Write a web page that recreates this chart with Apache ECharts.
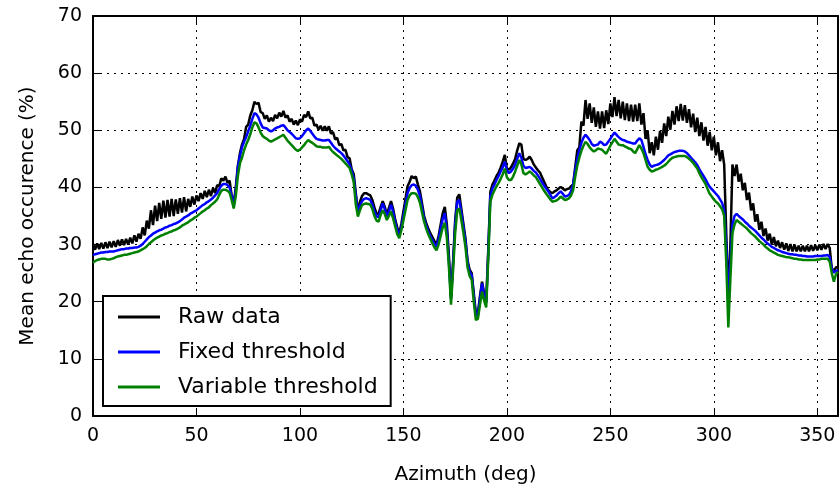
<!DOCTYPE html>
<html>
<head>
<meta charset="utf-8">
<script src="https://cdn.jsdelivr.net/npm/echarts@6/dist/echarts.min.js"></script>
<style>html,body{margin:0;padding:0;background:#fff;}#c{width:840px;height:491px;}</style>
</head>
<body>
<div id="c"></div>
<script>
// Azimuth sampling grid (deg), one sample per degree, 0..360
const azimuth = Array.from({length: 361}, (_, i) => i);

const seriesNames = ['Raw data', 'Fixed threshold', 'Variable threshold'];
const xTicks = [0, 50, 100, 150, 200, 250, 300, 350];
const yTicks = [0, 10, 20, 30, 40, 50, 60, 70];

const rawData = [
30.1,29.1,30.2,29.2,30.3,29.3,30.4,29.4,30.5,29.5,
30.6,29.6,30.8,29.8,30.9,29.9,31.0,30.0,31.2,30.2,
31.6,30.5,31.9,31.0,33.0,31.6,34.2,32.8,36.0,33.4,
36.8,34.1,37.3,34.5,37.7,34.7,37.8,34.9,38.0,35.0,
37.9,35.4,38.1,35.6,38.3,35.8,38.0,36.6,38.4,37.0,
38.6,37.6,39.0,38.0,39.4,38.3,39.6,38.5,39.9,39.0,
40.4,40.2,41.6,41.2,41.9,40.8,41.2,38.6,37.2,40.0,
43.8,46.0,47.5,48.5,50.6,51.0,52.6,53.5,55.0,54.6,
54.8,53.2,53.0,52.0,52.6,51.5,52.2,51.6,52.7,52.1,
53.1,52.4,53.4,52.2,52.6,51.5,52.0,51.0,51.7,50.9,
51.9,51.5,52.7,52.3,53.3,52.1,52.2,50.8,51.0,50.1,
50.8,49.9,50.7,49.9,50.7,49.4,49.7,48.4,48.7,47.4,
47.6,46.5,46.6,45.3,45.1,43.2,42.3,39.0,35.8,37.5,
38.5,39.0,39.0,38.8,38.6,37.8,36.5,35.4,35.4,36.6,
37.6,36.6,35.3,36.4,37.6,36.3,34.4,33.0,32.0,33.6,
35.8,38.0,40.2,41.0,42.0,41.6,41.9,40.5,39.3,37.2,
35.0,33.8,32.8,32.0,31.3,30.6,30.0,31.5,33.5,35.5,
36.6,33.5,28.0,20.7,27.0,34.2,38.2,38.8,36.2,33.6,
31.0,27.2,25.6,25.0,21.5,18.0,18.0,21.0,23.5,21.5,
20.0,29.0,39.2,40.5,41.2,42.0,42.6,43.5,44.5,45.7,
43.3,43.1,43.5,44.2,45.0,46.5,47.7,47.5,45.0,44.8,
45.0,45.4,44.8,44.0,43.5,43.0,42.6,41.8,41.0,40.2,
39.5,39.2,39.0,39.3,39.5,39.8,40.1,39.8,39.5,39.7,
39.8,40.2,40.5,43.5,46.5,47.0,51.5,50.8,55.3,52.0,
54.7,51.3,54.0,50.6,53.3,50.3,53.3,50.4,53.5,51.1,
54.7,52.3,55.8,52.5,55.3,52.1,55.0,51.8,54.7,51.6,
54.5,51.5,54.5,51.6,54.7,51.0,53.0,48.5,50.0,46.0,
47.9,45.6,48.9,46.6,49.9,47.8,51.2,49.0,52.4,50.1,
53.4,51.0,54.2,51.6,54.6,51.7,54.4,51.3,53.7,50.5,
52.9,49.7,52.2,49.0,51.4,48.2,50.6,47.3,49.7,46.5,
48.9,45.6,47.9,44.6,46.5,44.0,32.0,20.8,30.0,44.0,
42.0,44.0,41.0,42.4,39.5,40.8,37.8,39.1,36.0,37.2,
34.0,35.3,32.6,34.0,31.5,32.8,30.7,31.9,30.0,31.3,
29.7,30.7,29.4,30.4,29.1,30.2,28.9,30.1,28.8,30.0,
28.8,29.8,28.8,29.8,28.8,29.8,28.8,29.9,28.9,29.9,
29.0,30.0,29.1,30.1,29.2,30.1,29.4,25.8,25.4,26.0,26.1
];

const fixedData = [
28.2,28.3,28.4,28.5,28.6,28.6,28.7,28.7,28.8,28.8,
28.8,28.9,29.0,29.1,29.2,29.2,29.3,29.3,29.4,29.4,
29.5,29.5,29.6,29.8,30.1,30.5,30.9,31.3,31.6,31.9,
32.1,32.3,32.5,32.6,32.8,33.0,33.1,33.3,33.4,33.6,
33.7,33.9,34.1,34.4,34.7,34.9,35.1,35.4,35.6,35.8,
36.0,36.3,36.6,36.9,37.1,37.4,37.6,37.9,38.2,38.6,
39.0,39.7,40.3,40.6,40.6,40.4,40.0,38.5,36.8,39.5,
43.5,45.5,47.0,48.0,48.8,49.8,50.8,52.0,53.0,52.8,
52.2,51.2,50.5,50.4,50.3,50.0,49.8,50.0,50.3,50.5,
50.6,50.8,50.9,50.5,50.0,49.7,49.4,49.0,48.6,48.5,
48.6,49.0,49.5,50.0,50.3,49.9,49.4,48.9,48.5,48.4,
48.3,48.2,48.2,48.3,48.3,47.8,47.3,46.9,46.6,46.3,
46.0,45.6,45.1,44.6,44.0,43.0,41.5,38.5,35.5,36.8,
37.6,38.0,38.1,38.0,37.8,37.0,35.8,34.9,34.8,36.0,
37.2,36.2,34.9,35.8,37.0,35.8,34.0,32.5,31.6,33.0,
35.0,37.0,39.0,39.9,40.4,40.5,40.3,39.6,38.5,36.5,
34.5,33.3,32.3,31.5,30.8,30.1,29.6,31.0,32.8,34.5,
35.5,32.5,27.0,20.5,26.5,33.5,37.5,37.8,35.5,33.0,
30.5,26.8,25.2,24.6,21.0,17.6,17.6,20.5,23.2,21.0,
19.8,28.5,38.5,39.8,40.5,41.3,42.0,42.8,43.5,44.5,
43.0,42.5,42.8,43.3,44.0,45.0,46.0,45.2,43.8,43.4,
43.5,43.6,43.3,42.9,42.6,42.1,41.5,40.9,40.3,39.8,
39.3,38.7,38.1,38.3,38.6,39.0,39.3,38.9,38.4,38.5,
38.7,39.3,40.5,43.0,45.0,46.5,47.8,48.7,49.2,48.8,
48.3,47.6,47.3,47.4,47.5,48.0,47.8,47.4,47.5,48.0,
48.5,49.1,49.6,49.2,48.8,48.5,48.3,48.2,48.0,47.9,
47.8,47.7,47.7,48.2,48.6,48.3,47.1,45.8,44.8,44.0,
43.6,43.8,43.9,44.0,44.2,44.5,44.8,45.2,45.6,45.8,
46.0,46.2,46.3,46.4,46.4,46.4,46.3,46.0,45.6,45.2,
44.8,44.4,43.9,43.2,42.6,42.0,41.4,40.7,40.1,39.7,
39.3,38.9,38.5,37.9,37.3,36.0,30.0,20.0,27.0,33.5,
35.0,35.4,35.0,34.7,34.4,34.0,33.7,33.3,33.0,32.7,
32.4,32.0,31.6,31.2,30.9,30.5,30.2,29.9,29.6,29.4,
29.2,29.0,28.9,28.7,28.6,28.5,28.4,28.3,28.3,28.2,
28.2,28.1,28.1,28.0,28.0,27.9,27.9,27.9,27.9,28.0,
28.0,28.0,28.0,28.1,28.1,28.2,27.8,25.8,25.1,25.4,25.5
];

const variableData = [
26.8,27.1,27.3,27.4,27.5,27.5,27.5,27.4,27.4,27.5,
27.6,27.8,27.9,28.0,28.1,28.2,28.2,28.3,28.4,28.5,
28.6,28.7,28.8,29.0,29.2,29.4,29.7,30.1,30.4,30.7,
31.0,31.2,31.4,31.6,31.7,31.9,32.0,32.2,32.3,32.5,
32.6,32.8,33.0,33.3,33.5,33.7,33.9,34.2,34.4,34.7,
34.9,35.2,35.5,35.8,36.0,36.3,36.5,36.9,37.2,37.5,
37.9,38.7,39.4,39.6,39.6,39.4,39.1,37.8,36.3,38.5,
42.0,44.2,45.2,46.5,47.5,48.3,49.3,50.5,51.4,51.2,
50.5,49.6,49.0,48.7,48.5,48.2,48.0,48.2,48.4,48.6,
48.8,49.0,49.2,48.7,48.2,47.8,47.4,47.0,46.6,46.4,
46.6,47.0,47.4,47.9,48.3,48.0,47.8,47.5,47.2,47.1,
47.1,47.0,47.0,47.0,47.1,46.6,46.2,45.9,45.6,45.3,
45.0,44.6,44.2,43.8,43.4,42.3,40.9,37.0,34.9,36.0,
36.9,37.1,37.2,37.1,37.0,36.2,35.0,34.2,34.0,35.2,
36.0,35.3,34.3,35.0,35.8,34.6,33.2,31.8,31.1,32.5,
34.2,36.0,37.8,38.6,39.0,39.0,38.9,38.3,37.3,35.6,
34.0,32.8,31.8,31.0,30.2,29.5,29.0,30.0,31.5,33.0,
33.8,31.2,26.0,19.5,25.5,32.0,36.0,36.3,34.3,32.0,
29.5,26.0,24.5,23.8,20.0,16.8,17.0,19.5,21.8,20.2,
19.0,27.5,37.5,38.7,39.5,40.2,40.8,41.5,42.3,43.3,
41.8,41.3,41.3,41.9,42.8,43.8,44.8,44.0,42.5,42.3,
42.5,42.8,42.5,42.1,41.8,41.2,40.6,40.0,39.4,38.9,
38.4,37.9,37.5,37.6,37.7,38.0,38.4,38.1,37.8,37.9,
38.1,38.6,39.5,41.8,43.8,45.2,46.4,47.3,48.0,47.6,
47.0,46.6,46.3,46.5,46.8,46.7,46.6,46.2,45.9,46.6,
47.3,47.9,48.5,48.0,47.5,47.4,47.4,47.2,47.0,46.8,
46.7,46.3,46.0,46.7,47.4,46.8,46.0,44.8,43.6,43.1,
42.8,42.9,43.1,43.2,43.4,43.6,43.8,44.1,44.5,44.9,
45.2,45.3,45.4,45.5,45.5,45.5,45.5,45.3,45.0,44.7,
44.3,43.8,43.3,42.5,41.8,41.2,40.6,39.7,38.9,38.4,
37.9,37.5,37.2,36.7,36.2,35.0,27.0,15.5,24.0,32.0,
33.5,34.3,34.0,33.7,33.4,33.1,32.8,32.4,32.0,31.7,
31.4,31.0,30.6,30.3,30.0,29.6,29.3,29.0,28.8,28.6,
28.4,28.2,28.1,28.0,27.9,27.8,27.8,27.7,27.6,27.5,
27.5,27.4,27.4,27.3,27.3,27.3,27.3,27.3,27.3,27.3,
27.4,27.4,27.5,27.5,27.5,27.5,27.0,25.0,23.5,24.8,25.2
];

const colors = ['#000000', '#0000ff', '#008000'];
const FONT = 'DejaVu Sans';

function pairs(vals) { return azimuth.map((a, i) => [a, vals[i]]); }

const chart = echarts.init(document.getElementById('c'), null, {renderer: 'canvas'});
const axisCommon = {
  axisLine: {show: true, onZero: false, lineStyle: {color: '#000', width: 2}},
  axisTick: {show: true, inside: true, length: 8, lineStyle: {color: '#000', width: 1}},
};
const xMin = xTicks[0], xMax = 360, xInt = xTicks[1] - xTicks[0];
const yMin = yTicks[0], yMax = yTicks[yTicks.length - 1], yInt = yTicks[1] - yTicks[0];

chart.setOption({
  animation: false,
  backgroundColor: '#ffffff',
  grid: {left: 93, top: 16, right: 2, bottom: 75, containLabel: false},
  legend: {
    left: 103, top: 296,
    orient: 'vertical',
    data: seriesNames,
    icon: 'rect',
    itemWidth: 42, itemHeight: 3, itemGap: 13,
    padding: [10, 13, 8, 15],
    backgroundColor: '#ffffff',
    borderColor: '#000000', borderWidth: 2, borderRadius: 0,
    textStyle: {fontFamily: FONT, fontSize: 22, color: '#000', lineHeight: 20, padding: [0, 0, 0, 13]}
  },
  xAxis: [
    Object.assign({
      type: 'value', min: xMin, max: xMax, interval: xInt, position: 'bottom',
      name: 'Azimuth (deg)', nameLocation: 'middle', nameGap: 49,
      nameTextStyle: {fontFamily: FONT, fontSize: 20, color: '#000'},
      axisLabel: {fontFamily: FONT, fontSize: 19, color: '#000', margin: 11, showMaxLabel: false},
      splitLine: {show: true, lineStyle: {color: '#000', type: [2, 5], width: 1}}
    }, axisCommon),
    Object.assign({
      type: 'value', min: xMin, max: xMax, interval: xInt, position: 'top',
      axisLabel: {show: false}, splitLine: {show: false}
    }, axisCommon)
  ],
  yAxis: [
    Object.assign({
      type: 'value', min: yMin, max: yMax, interval: yInt, position: 'left',
      name: 'Mean echo occurence (%)', nameLocation: 'middle', nameGap: 55,
      nameTextStyle: {fontFamily: FONT, fontSize: 20, color: '#000'},
      axisLabel: {fontFamily: FONT, fontSize: 19, color: '#000', margin: 11},
      splitLine: {show: true, lineStyle: {color: '#000', type: [2, 5], width: 1}}
    }, axisCommon),
    Object.assign({
      type: 'value', min: yMin, max: yMax, interval: yInt, position: 'right',
      axisLabel: {show: false}, splitLine: {show: false}
    }, axisCommon)
  ],
  series: [rawData, fixedData, variableData].map((vals, k) => ({
    name: seriesNames[k],
    type: 'line',
    xAxisIndex: 0, yAxisIndex: 0,
    data: pairs(vals),
    showSymbol: false, symbol: 'none',
    lineStyle: {color: colors[k], width: 2.5},
    itemStyle: {color: colors[k]},
    z: 3 + k
  }))
});
</script>
</body>
</html>
